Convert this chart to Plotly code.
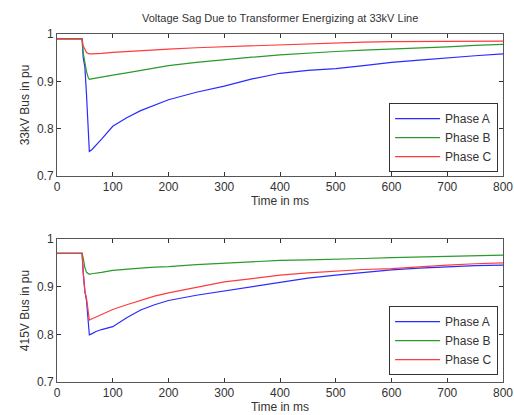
import plotly.graph_objects as go

# ---- data ----
time_ms = [0, 45, 47, 50, 53, 56, 58, 62, 70, 80, 100, 125, 150, 175, 200, 250,
           300, 350, 400, 450, 500, 550, 600, 650, 700, 750, 800]

top_a = [0.99, 0.99, 0.95, 0.93, 0.87, 0.80, 0.752, 0.755, 0.765, 0.778, 0.805, 0.823,
         0.838, 0.850, 0.861, 0.877, 0.890, 0.905, 0.917, 0.923, 0.927, 0.933, 0.940,
         0.945, 0.950, 0.954, 0.958]
top_b = [0.99, 0.99, 0.96, 0.935, 0.92, 0.908, 0.904, 0.905, 0.907, 0.909, 0.913, 0.918,
         0.923, 0.928, 0.933, 0.940, 0.946, 0.951, 0.956, 0.960, 0.963, 0.966, 0.968,
         0.970, 0.973, 0.976, 0.978]
top_c = [0.989, 0.989, 0.975, 0.966, 0.961, 0.959, 0.958, 0.958, 0.959, 0.959, 0.961, 0.963,
         0.965, 0.967, 0.968, 0.971, 0.973, 0.976, 0.978, 0.980, 0.982, 0.983, 0.984,
         0.984, 0.985, 0.985, 0.985]

bot_a = [0.97, 0.97, 0.93, 0.89, 0.87, 0.82, 0.799, 0.801, 0.806, 0.81, 0.816, 0.835,
         0.851, 0.862, 0.871, 0.882, 0.891, 0.901, 0.910, 0.918, 0.924, 0.930, 0.935,
         0.939, 0.942, 0.944, 0.945]
bot_b = [0.97, 0.97, 0.96, 0.94, 0.93, 0.927, 0.926, 0.927, 0.928, 0.930, 0.934, 0.937,
         0.939, 0.941, 0.942, 0.946, 0.949, 0.952, 0.955, 0.956, 0.957, 0.959, 0.961,
         0.962, 0.963, 0.965, 0.966]
bot_c = [0.97, 0.97, 0.93, 0.89, 0.875, 0.845, 0.830, 0.832, 0.836, 0.842, 0.852, 0.862,
         0.871, 0.880, 0.887, 0.899, 0.910, 0.917, 0.924, 0.929, 0.933, 0.936, 0.938,
         0.942, 0.945, 0.948, 0.950]

series_names = ["Phase A", "Phase B", "Phase C"]
colors = ["#2b2bff", "#2a9a2a", "#ff3b3b"]
x_ticks = [0, 100, 200, 300, 400, 500, 600, 700, 800]
y_ticks = [0.7, 0.8, 0.9, 1.0]
y_tick_labels = ["0.7", "0.8", "0.9", "1"]

title_text = "Voltage Sag Due to Transformer Energizing at 33kV Line"
x_title = "Time in ms"
y_title_top = "33kV Bus in pu"
y_title_bot = "415V Bus in pu"

# ---- figure ----
fig = go.Figure()
for name, col, ys in zip(series_names, colors, [top_a, top_b, top_c]):
    fig.add_trace(go.Scatter(x=time_ms, y=ys, mode="lines", name=name,
                             line=dict(color=col, width=1.2),
                             xaxis="x", yaxis="y", legend="legend"))
for name, col, ys in zip(series_names, colors, [bot_a, bot_b, bot_c]):
    fig.add_trace(go.Scatter(x=time_ms, y=ys, mode="lines", name=name,
                             line=dict(color=col, width=1.2),
                             xaxis="x2", yaxis="y2", legend="legend2"))

font = dict(family="Liberation Sans, Arial, sans-serif", size=11, color="#333333")
axis_common = dict(range=[0, 800], tickvals=x_ticks, ticks="inside", ticklen=4,
                   tickcolor="#333", showline=True, linecolor="#555", linewidth=1,
                   mirror="ticks", showgrid=False, zeroline=False, automargin=False,
                   tickfont=dict(size=12, color="#333"))
yaxis_common = dict(range=[0.7, 1.0], tickvals=y_ticks, ticktext=y_tick_labels,
                    ticks="inside", ticklen=4, tickcolor="#333", showline=True,
                    linecolor="#555", linewidth=1, mirror="ticks", showgrid=False,
                    zeroline=False, automargin=False, tickfont=dict(size=12, color="#333"))

legend_common = dict(bgcolor="white", bordercolor="#333", borderwidth=1,
                     font=dict(size=12, color="#333"), xanchor="right", yanchor="bottom",
                     tracegroupgap=0, itemwidth=45)

fig.update_layout(
    width=514, height=415,
    margin=dict(l=57, r=11, t=34, b=33),
    paper_bgcolor="white", plot_bgcolor="white",
    font=font,
    title=dict(text=title_text, x=0.545, xanchor="center", y=0.957, yanchor="middle",
               font=dict(size=11, color="#333")),
    xaxis=dict(domain=[0, 1], anchor="y",
               title=dict(text=x_title, standoff=0, font=dict(size=12)), **axis_common),
    yaxis=dict(domain=[0.592, 1], anchor="x",
               title=dict(text=y_title_top, standoff=4, font=dict(size=12)), **yaxis_common),
    xaxis2=dict(domain=[0, 1], anchor="y2",
                title=dict(text=x_title, standoff=0, font=dict(size=12)), **axis_common),
    yaxis2=dict(domain=[0, 0.411], anchor="x2",
                title=dict(text=y_title_bot, standoff=4, font=dict(size=12)), **yaxis_common),
    legend=dict(x=0.989, y=0.603, **legend_common),
    legend2=dict(x=0.989, y=0.02, **legend_common),
)

fig.write_html("out.html", config={"displayModeBar": False},
               post_script="document.body.style.margin='0';document.body.style.overflow='hidden';")
